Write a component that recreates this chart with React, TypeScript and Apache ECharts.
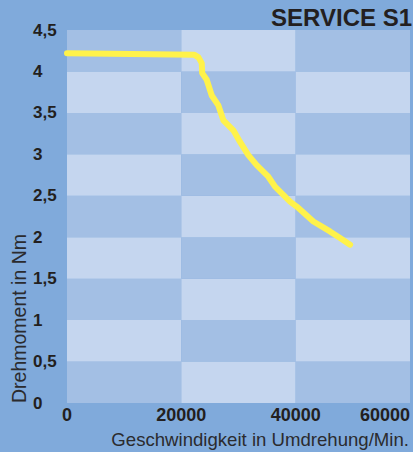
import React, { useEffect, useRef } from "react";
import * as echarts from "echarts";

const xTicks = [0, 20000, 40000, 60000];
const xLabels = ["0", "20000", "40000", "60000"];
const yTicks = [0, 0.5, 1, 1.5, 2, 2.5, 3, 3.5, 4, 4.5];
const yLabels = ["0", "0,5", "1", "1,5", "2", "2,5", "3", "3,5", "4", "4,5"];
const speed = [0, 22300, 23000, 23570, 23650, 24440, 25320, 26480, 27360, 29100, 30270, 31720, 33180, 35220, 36390, 39020, 40190, 43100, 46000, 47770, 49520];
const torque = [4.22, 4.2, 4.17, 4.1, 3.98, 3.9, 3.71, 3.59, 3.41, 3.29, 3.15, 2.99, 2.87, 2.73, 2.61, 2.43, 2.37, 2.19, 2.07, 1.99, 1.91];
const title = "SERVICE S1";
const xName = "Geschwindigkeit in Umdrehung/Min.";
const yName = "Drehmoment in Nm";

const BG = "#80aadb";
const DARK = "#a3bfe4";
const LIGHT = "#c5d6ef";
const TXT = "#231f20";

function lookup(ticks: number[], labels: string[], v: number) {
  const idx = ticks.findIndex((t) => Math.abs(t - v) < 1e-6);
  return idx >= 0 ? labels[idx] : "";
}

export default function App() {
  const ref = useRef<HTMLDivElement>(null);
  useEffect(() => {
    if (!ref.current) return;
    const chart = echarts.init(ref.current, undefined, { renderer: "svg" });
    const cells: number[][] = [];
    for (let i = 0; i < xTicks.length - 1; i++) {
      for (let j = 0; j < yTicks.length - 1; j++) {
        cells.push([xTicks[i], xTicks[i + 1], yTicks[j], yTicks[j + 1], (i + j) % 2]);
      }
    }
    chart.setOption({
      animation: false,
      backgroundColor: BG,
      grid: { left: 67, right: 3, top: 30, bottom: 49 },
      xAxis: {
        type: "value",
        min: 0,
        max: 60000,
        interval: 20000,
        axisLine: { show: false },
        axisTick: { show: false },
        splitLine: { show: false },
        axisLabel: {
          margin: 3,
          fontSize: 18,
          fontWeight: "bold",
          color: TXT,
          fontFamily: "Liberation Sans",
          alignMaxLabel: "right",
          formatter: (v: number) => lookup(xTicks, xLabels, v),
        },
      },
      yAxis: {
        type: "value",
        min: 0,
        max: 4.5,
        interval: 0.5,
        axisLine: { show: false },
        axisTick: { show: false },
        splitLine: { show: false },
        axisLabel: {
          margin: 34,
          align: "left",
          fontSize: 17,
          fontWeight: "bold",
          color: TXT,
          fontFamily: "Liberation Sans",
          formatter: (v: number) => lookup(yTicks, yLabels, v),
        },
      },
      graphic: [
        {
          type: "text",
          x: 412,
          y: 17,
          style: {
            text: title,
            fontSize: 24,
            fontWeight: "bold",
            fontFamily: "Liberation Sans",
            fill: TXT,
            align: "right",
            verticalAlign: "middle",
          },
        },
        {
          type: "text",
          x: 409,
          y: 439.5,
          style: {
            text: xName,
            fontSize: 18.6,
            fontFamily: "Liberation Sans",
            fill: "#2b2b2e",
            align: "right",
            verticalAlign: "middle",
          },
        },
        {
          type: "text",
          x: 19,
          y: 403,
          rotation: Math.PI / 2,
          style: {
            text: yName,
            fontSize: 19.5,
            fontFamily: "Liberation Sans",
            fill: "#2b2b2e",
            align: "left",
            verticalAlign: "middle",
          },
        },
      ],
      series: [
        {
          type: "custom",
          silent: true,
          data: cells,
          encode: { x: [0, 1], y: [2, 3] },
          renderItem: (params: any, api: any) => {
            const p0 = api.coord([api.value(0), api.value(3)]);
            const p1 = api.coord([api.value(1), api.value(2)]);
            return {
              type: "rect",
              shape: { x: p0[0], y: p0[1], width: p1[0] - p0[0], height: p1[1] - p0[1] },
              style: { fill: api.value(4) === 0 ? DARK : LIGHT },
            };
          },
          z: 1,
        },
        {
          type: "line",
          data: speed.map((s, i) => [s, torque[i]]),
          showSymbol: false,
          symbol: "none",
          lineStyle: { color: "#fff24a", width: 6, cap: "round", join: "round" },
          z: 5,
        },
      ],
    });
    return () => chart.dispose();
  }, []);
  return <div ref={ref} style={{ position: "fixed", left: 0, top: 0, width: 413, height: 452 }} />;
}
